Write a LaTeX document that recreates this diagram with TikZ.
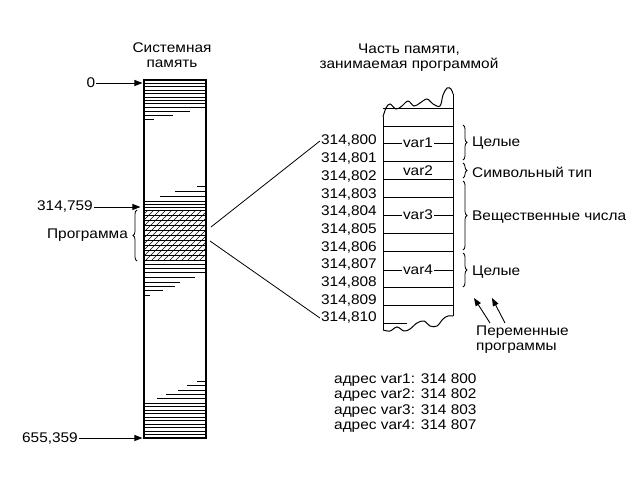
\documentclass[tikz,border=0pt]{standalone}
\usepackage{fontspec}
\setmainfont{Liberation Sans}[FakeStretch=1.1]
\usetikzlibrary{positioning,decorations.pathreplacing,arrows.meta}

\begin{document}
\begin{tikzpicture}[x=1pt,y=-1pt,
  every node/.style={font=\fontsize{14}{15}\selectfont, inner sep=1pt},
  ptr/.style={-{Triangle[length=8pt,width=6pt]}, line width=0.9pt},
  brc/.style={decorate, decoration={brace, amplitude=4pt}, line width=0.8pt},
  strip/.style={line width=0.8pt},
  row/.style={line width=1pt}]
\useasboundingbox (0,0) rectangle (640,480);

\node[align=center] (systitle) at (172,55) {Системная\\память};
\node[align=center] (progtitle) at (409,58) {Часть памяти,\\занимаемая программой};

\node[draw, line width=1.1pt, minimum width=62pt, minimum height=358pt, inner sep=0] (sysmem) at (175,259) {};
\foreach \i in {1,...,8} \draw[strip] (144,80+3.4*\i) -- (206,80+3.4*\i);
\draw[strip] (144,111) -- (190,111) (144,115) -- (173,115) (144,119) -- (154,119);
\draw[strip] (197,186) -- (206,186) (175,191) -- (206,191) (160,196) -- (206,196);
\foreach \y in {201,204,207} \draw[strip] (144,\y) -- (206,\y);
\begin{scope}
  \clip (144,210) rectangle (206,260);
  \foreach \d in {-60,-54,...,66} \draw[line width=0.6pt] (144+\d,262) -- ++(54,-54);
  \foreach \y in {210,215,...,260} \draw[strip] (144,\y) -- (206,\y);
\end{scope}
\foreach \y in {260,264,268,272} \draw[strip] (144,\y) -- (206,\y);
\draw[strip] (144,277) -- (195,277) (144,282) -- (180,282) (144,286) -- (175,286)
  (144,290) -- (163,290) (144,295) -- (150,295);
\draw[strip] (197,381) -- (206,381) (187,385) -- (206,385) (178,390) -- (206,390)
  (166,394) -- (206,394) (157,398) -- (206,398);
\foreach \i in {0,...,10} \draw[strip] (144,403+3.5*\i) -- (206,403+3.5*\i);

\node (a0) at (91,83) {0};
\node[anchor=east] (a759) at (94,207) {314,759};
\node[anchor=east] (a655) at (79,438) {655,359};
\draw[ptr, shorten >=1pt] (a0) -- (sysmem.west |- a0);
\draw[ptr, shorten >=3pt] (a759) -- (sysmem.west |- a759);
\draw[ptr, shorten >=1pt] (a655) -- (sysmem.west |- a655);

\node[anchor=east] (progname) at (129,235) {Программа};
\draw[brc] (137,261) -- (137,210);

\draw[row] plot[smooth, tension=0.6] coordinates {(383,117) (386,108) (390,104) (396,109)
  (402,106) (408,101) (414,106) (420,103) (427,99) (433,104) (440,106) (443,95) (447,88) (451,89) (453,94)};
\draw[row] plot[smooth, tension=0.6] coordinates {(383,330) (390,331) (397,327) (404,331)
  (410,329) (417,323) (424,321) (430,326) (437,326) (443,319) (448,316) (453,316)};
\draw[row] (383,117) -- (383,330) (453,94) -- (453,316);
\foreach \y in {108,126,161,179,197,233,251,287,305} \draw[row] (383,\y) -- (453,\y);
\draw[row] (383,323) -- (407,323);

\foreach \y in {143,215,270} \draw[row] (383,\y) -- (453,\y);
\node[fill=white] (v1) at (418,143) {var1};
\node (v2) at (418,171) {var2};
\node[fill=white] (v3) at (418,215) {var3};
\node[fill=white] (v4) at (418,270) {var4};

\foreach \n in {0,...,10} {
  \pgfmathtruncatemacro\t{800+\n}
  \node[anchor=east] (m\t) at (378,141+17.7*\n) {314,\t};
}
\coordinate (hup) at (211,227);
\coordinate (hdn) at (210,241);
\draw[line width=0.8pt] (hup) -- (m800.west);
\draw[line width=0.8pt] (hdn) -- (m810.west);

\draw[brc] (463,125) -- (463,160);
\draw[brc] (463,163) -- (463,178);
\draw[brc] (463,181) -- (463,250);
\draw[brc] (463,253) -- (463,287);
\node[anchor=west] (t1) at (471,143) {Целые};
\node[anchor=west] (t2) at (471,172) {Символьный тип};
\node[anchor=west] (t3) at (471,217) {Вещественные числа};
\node[anchor=west] (t4) at (471,272) {Целые};

\node[anchor=north west, align=left] (pvars) at (475,325) {Переменные\\программы};
\coordinate (p1) at (474,298);
\coordinate (p2) at (492,298);
\draw[ptr] ([xshift=15pt,yshift=2pt]pvars.north west) -- (p1);
\draw[ptr] ([xshift=30pt,yshift=2pt]pvars.north west) -- (p2);

\node[anchor=west, align=left, font=\fontsize{14}{15.3}\selectfont] (addr) at (333,403)
  {адрес var1: 314 800\\адрес var2: 314 802\\адрес var3: 314 803\\адрес var4: 314 807};
\end{tikzpicture}
\end{document}
